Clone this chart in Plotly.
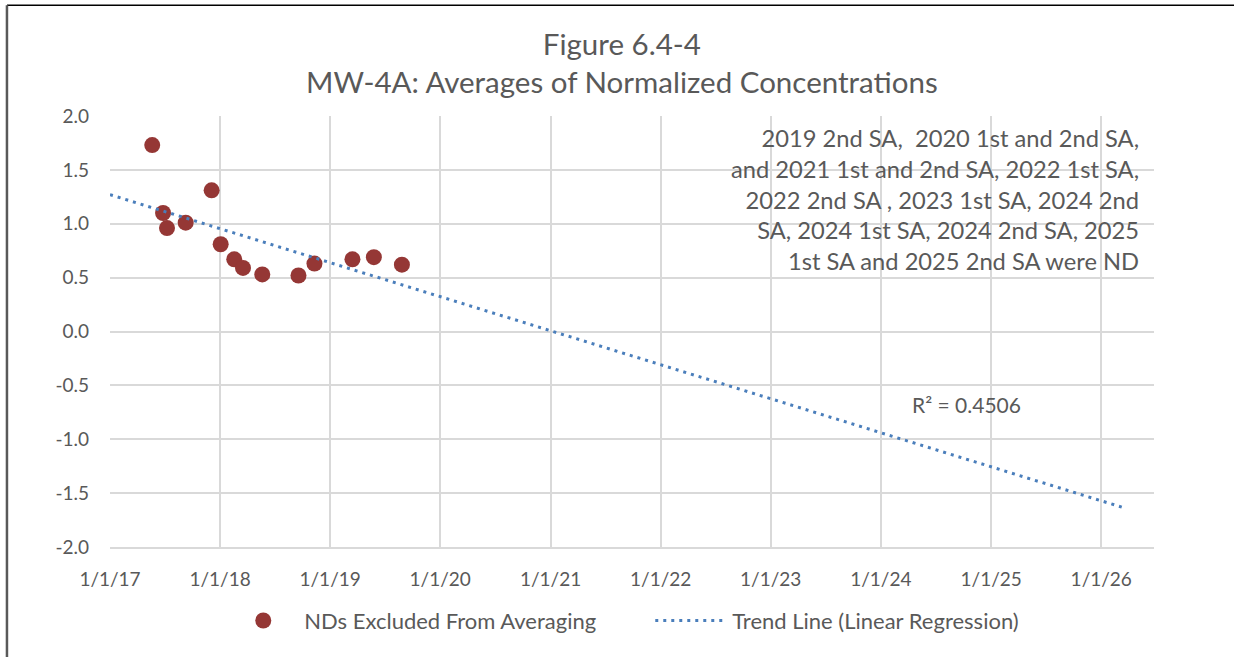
import plotly.graph_objects as go

# ─── data ───
sample_dates = [
    "2017-05-21", "2017-06-26", "2017-07-09", "2017-09-09", "2017-12-04",
    "2018-01-03", "2018-02-17", "2018-03-18", "2018-05-21", "2018-09-18",
    "2018-11-10", "2019-03-16", "2019-05-26", "2019-08-27",
]
norm_avg = [1.73, 1.10, 0.96, 1.01, 1.31, 0.81, 0.67, 0.59, 0.53, 0.52,
            0.63, 0.67, 0.69, 0.62]

trend_dates = ["2017-01-01", "2026-03-10"]
trend_values = [1.27, -1.63]

year_ticks = [f"{y}-01-01" for y in range(2017, 2027)]
year_labels = [f"1/1/{y % 100}" for y in range(2017, 2027)]
y_ticks = [-2.0, -1.5, -1.0, -0.5, 0.0, 0.5, 1.0, 1.5, 2.0]
y_labels = ["-2.0", "-1.5", "-1.0", "-0.5", "0.0", "0.5", "1.0", "1.5", "2.0"]

note_lines = [
    "2019 2nd SA,  2020 1st and 2nd SA,",
    "and 2021 1st and 2nd SA, 2022 1st SA,",
    "2022 2nd SA , 2023 1st SA, 2024 2nd",
    "SA, 2024 1st SA, 2024 2nd SA, 2025",
    "1st SA and 2025 2nd SA were ND",
]

TEXT = "#595959"
GRID = "#d9d9d9"
FONT = "Lato, sans-serif"

fig = go.Figure()

fig.add_trace(go.Scatter(
    x=sample_dates, y=norm_avg,
    mode="markers",
    marker=dict(color="#953735", size=16, line=dict(width=0)),
    name="NDs Excluded From Averaging",
))

fig.add_trace(go.Scatter(
    x=trend_dates, y=trend_values,
    mode="lines",
    line=dict(color="#4a7ebb", width=3, dash="3px,5px"),
    name="Trend Line (Linear Regression)",
))

# 제목
fig.add_annotation(
    text="Figure 6.4-4<br>MW-4A: Averages of Normalized Concentrations",
    xref="paper", yref="paper", x=0.49, y=1.125,
    xanchor="center", yanchor="middle", showarrow=False,
    font=dict(family=FONT, size=29.5, color=TEXT),
)

fig.add_annotation(
    text="<br>".join(note_lines),
    xref="paper", yref="paper", x=0.9875, y=0.806,
    xanchor="right", yanchor="middle", align="right", showarrow=False,
    font=dict(family=FONT, size=23.7, color=TEXT),
)

fig.add_annotation(
    text="R² = 0.4506",
    xref="paper", yref="paper", x=0.766, y=0.331,
    xanchor="left", yanchor="middle", showarrow=False,
    font=dict(family=FONT, size=21, color=TEXT),
)

# 테두리
fig.add_shape(type="line", xref="paper", yref="paper",
              x0=-0.0987, x1=1.09, y0=1.257, y1=1.257,
              line=dict(color="black", width=1.5))
fig.add_shape(type="line", xref="paper", yref="paper",
              x0=-0.0987, x1=-0.0987, y0=1.257, y1=-0.27,
              line=dict(color=TEXT, width=2.5))

fig.update_layout(
    width=1234, height=657,
    paper_bgcolor="white", plot_bgcolor="white",
    margin=dict(l=110, r=80, t=116, b=110),
    font=dict(family=FONT, size=19, color=TEXT),
    showlegend=True,
    legend=dict(
        orientation="h",
        x=0.5175, xanchor="center",
        y=-0.171, yanchor="middle",
        font=dict(family=FONT, size=22, color=TEXT),
        itemwidth=72,
        entrywidth=341,
    ),
)

fig.update_xaxes(
    type="date",
    range=["2017-01-01", "2026-06-25"],
    tickvals=year_ticks, ticktext=year_labels,
    showgrid=True, gridcolor=GRID, gridwidth=1.5,
    showline=True, linecolor=GRID, linewidth=1.5,
    ticks="", ticklabelstandoff=14,
    zeroline=False,
)
fig.update_yaxes(
    range=[-2, 2],
    tickvals=y_ticks, ticktext=y_labels,
    showgrid=True, gridcolor=GRID, gridwidth=1.5,
    zeroline=False, showline=False,
    ticks="", ticklabelstandoff=20,
)

fig.write_html("out.html", config={"displayModeBar": False},
               post_script="document.body.style.margin='0';")
